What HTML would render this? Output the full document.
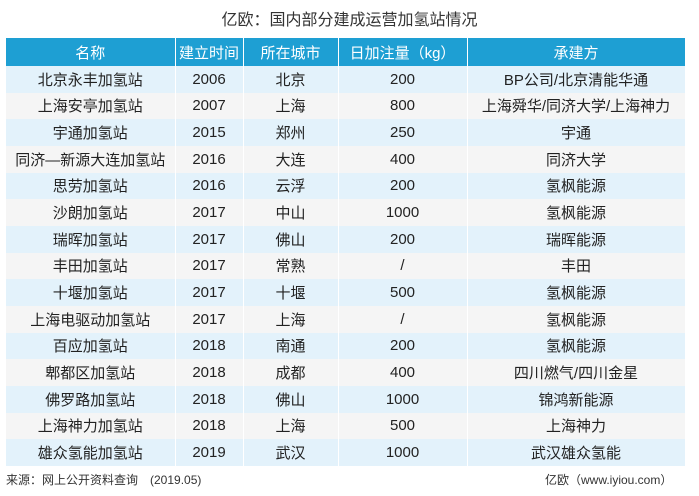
<!DOCTYPE html>
<html><head><meta charset="utf-8"><style>
body{margin:0;width:699px;height:496px;background:#fff;font-family:"Liberation Sans","Noto Sans CJK SC",sans-serif;position:relative;overflow:hidden}
.title{position:absolute;top:6px;left:0;width:699px;text-align:center;font-size:16px;color:#333}
table{position:absolute;left:6px;top:38px;border-collapse:collapse;table-layout:fixed;width:679px}
td,th{text-align:center;font-size:15px;color:#222;padding:0;height:26.67px;border-right:1px solid #fff;font-weight:normal;white-space:nowrap;overflow:hidden}
th{background:#1e9fd3;color:#fff;height:28px;font-size:15px}
tr:nth-child(odd) td{background:#e3f2fb}
tr:nth-child(even) td{background:#f5f5f5}
.src{position:absolute;left:6px;top:471px;font-size:12px;color:#333}
.brand{position:absolute;left:545px;top:471px;font-size:12px;color:#333}
</style></head><body>
<div class="title">亿欧：国内部分建成运营加氢站情况</div>
<table>
<colgroup><col style="width:169px"><col style="width:68px"><col style="width:95px"><col style="width:129px"><col style="width:218px"></colgroup>
<thead><tr><th>名称</th><th>建立时间</th><th>所在城市</th><th>日加注量（kg）</th><th>承建方</th></tr></thead>
<tbody>
<tr><td>北京永丰加氢站</td><td>2006</td><td>北京</td><td>200</td><td>BP公司/北京清能华通</td></tr>
<tr><td>上海安亭加氢站</td><td>2007</td><td>上海</td><td>800</td><td>上海舜华/同济大学/上海神力</td></tr>
<tr><td>宇通加氢站</td><td>2015</td><td>郑州</td><td>250</td><td>宇通</td></tr>
<tr><td>同济—新源大连加氢站</td><td>2016</td><td>大连</td><td>400</td><td>同济大学</td></tr>
<tr><td>思劳加氢站</td><td>2016</td><td>云浮</td><td>200</td><td>氢枫能源</td></tr>
<tr><td>沙朗加氢站</td><td>2017</td><td>中山</td><td>1000</td><td>氢枫能源</td></tr>
<tr><td>瑞晖加氢站</td><td>2017</td><td>佛山</td><td>200</td><td>瑞晖能源</td></tr>
<tr><td>丰田加氢站</td><td>2017</td><td>常熟</td><td>/</td><td>丰田</td></tr>
<tr><td>十堰加氢站</td><td>2017</td><td>十堰</td><td>500</td><td>氢枫能源</td></tr>
<tr><td>上海电驱动加氢站</td><td>2017</td><td>上海</td><td>/</td><td>氢枫能源</td></tr>
<tr><td>百应加氢站</td><td>2018</td><td>南通</td><td>200</td><td>氢枫能源</td></tr>
<tr><td>郫都区加氢站</td><td>2018</td><td>成都</td><td>400</td><td>四川燃气/四川金星</td></tr>
<tr><td>佛罗路加氢站</td><td>2018</td><td>佛山</td><td>1000</td><td>锦鸿新能源</td></tr>
<tr><td>上海神力加氢站</td><td>2018</td><td>上海</td><td>500</td><td>上海神力</td></tr>
<tr><td>雄众氢能加氢站</td><td>2019</td><td>武汉</td><td>1000</td><td>武汉雄众氢能</td></tr>
</tbody></table>
<div class="src">来源：网上公开资料查询　(2019.05)</div>
<div class="brand">亿欧（www.iyiou.com）</div>
</body></html>
